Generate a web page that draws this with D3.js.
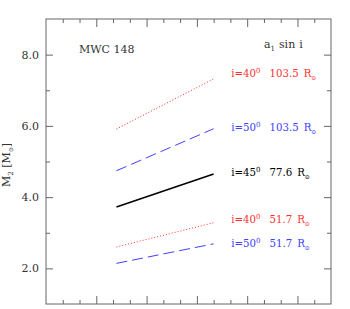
<!DOCTYPE html>
<html>
<head>
<meta charset="utf-8">
<script src="https://cdn.jsdelivr.net/npm/d3@7"></script>
<style>
  body { margin: 0; background: #fff; }
  svg { display: block; font-family: "DejaVu Serif", "Liberation Serif", serif; }
</style>
</head>
<body>
<svg id="chart" width="350" height="309"></svg>
<script>
// values
const xRange = [4.2, 10.0]
const inclinations = [40, 50, 45, 40, 50]
const a1sini = ['103.5', '103.5', '77.6', '51.7', '51.7']
const massStart = [5.91, 4.74, 3.72, 2.60, 2.14]
const massEnd = [7.32, 5.92, 4.65, 3.28, 2.69]
const labelMass = [7.38, 5.87, 4.58, 3.28, 2.59]
const yMajor = [2, 4, 6, 8]
const yMinor = [3, 5, 7]

const margin = {top: 19, right: 19, bottom: 5, left: 46}
const width = 350 - margin.left - margin.right
const height = 309 - margin.top - margin.bottom

const styleFor = {
  40: {color: '#ff3030', dash: '1,2', width: 1},
  50: {color: '#4040ff', dash: '11,5', width: 1},
  45: {color: '#000', dash: null, width: 1.6}
}

const svg = d3.select('#chart')
const g = svg.append('g')
  .attr('transform', 'translate(' + margin.left + ',' + margin.top + ')')

const xScale = d3.scaleLinear().domain([0, 17]).range([0, width])
const yScale = d3.scaleLinear().domain([1, 9]).range([height, 0])

const axisColor = '#666'
const textColor = '#333'
const fontSize = '11px'
const labelSize = '10.2px'

function styleAxis (sel) {
  sel.select('.domain').remove()
  sel.selectAll('line').attr('stroke', axisColor)
  sel.selectAll('text').attr('fill', textColor)
    .style('font-size', fontSize)
}

// x ticks, no labels
const xMinorVals = d3.range(1, 17).filter(d => d % 3 !== 0)
const xMajorVals = d3.range(3, 17, 3)
g.append('g').attr('transform', 'translate(0,' + height + ')')
  .call(d3.axisBottom(xScale).tickValues(xMinorVals).tickSize(-4).tickFormat(''))
  .call(styleAxis)
g.append('g').attr('transform', 'translate(0,' + height + ')')
  .call(d3.axisBottom(xScale).tickValues(xMajorVals).tickSize(-8).tickFormat(''))
  .call(styleAxis)
g.append('g')
  .call(d3.axisTop(xScale).tickValues(xMinorVals).tickSize(-4).tickFormat(''))
  .call(styleAxis)
g.append('g')
  .call(d3.axisTop(xScale).tickValues(xMajorVals).tickSize(-8).tickFormat(''))
  .call(styleAxis)

// y ticks
g.append('g')
  .call(d3.axisLeft(yScale).tickValues(yMajor).tickSize(-7).tickPadding(7).tickFormat(d3.format('.1f')))
  .call(styleAxis)
g.append('g')
  .call(d3.axisLeft(yScale).tickValues(yMinor).tickSize(-4).tickFormat(''))
  .call(styleAxis)
g.append('g').attr('transform', 'translate(' + width + ',0)')
  .call(d3.axisRight(yScale).tickValues(yMajor).tickSize(-7).tickFormat(''))
  .call(styleAxis)
g.append('g').attr('transform', 'translate(' + width + ',0)')
  .call(d3.axisRight(yScale).tickValues(yMinor).tickSize(-4).tickFormat(''))
  .call(styleAxis)
g.selectAll('g').attr('font-family', null).attr('font-size', null)

// frame
g.append('rect')
  .attr('width', width).attr('height', height)
  .attr('fill', 'none').attr('stroke', axisColor)

// lines
const line = d3.line().x(d => xScale(d[0])).y(d => yScale(d[1]))
inclinations.forEach((inc, i) => {
  const s = styleFor[inc]
  g.append('path')
    .datum([[xRange[0], massStart[i]], [xRange[1], massEnd[i]]])
    .attr('d', line)
    .attr('fill', 'none')
    .attr('stroke', s.color)
    .attr('stroke-width', s.width)
    .attr('stroke-dasharray', s.dash)
})

// labels
inclinations.forEach((inc, i) => {
  const s = styleFor[inc]
  const y = yScale(labelMass[i])
  const t = g.append('text')
    .attr('x', xScale(11.05)).attr('y', y)
    .attr('fill', s.color).style('font-size', labelSize)
  t.append('tspan').text('i=' + inc)
  t.append('tspan').attr('dy', -4).style('font-size', '7px').text('0')
  const t2 = g.append('text')
    .attr('x', xScale(13.33)).attr('y', y)
    .attr('fill', s.color).style('font-size', labelSize)
  t2.append('tspan').text(a1sini[i])
  t2.append('tspan').attr('dx', 5).text('R')
  t2.append('tspan').attr('dy', 3).style('font-size', '6px').text('\u2299')
})

// header of the label column
const hdr = g.append('text')
  .attr('x', xScale(13.0)).attr('y', 29)
  .attr('fill', textColor).style('font-size', fontSize)
hdr.append('tspan').text('a')
hdr.append('tspan').attr('dy', 3).style('font-size', '7px').text('1')
hdr.append('tspan').attr('dy', -3).attr('dx', 4).text('sin')
hdr.append('tspan').attr('dx', 4).text('i')

// star name
g.append('text')
  .attr('x', 33).attr('y', 34)
  .attr('fill', textColor).style('font-size', fontSize)
  .text('MWC 148')

// y axis title
const yt = svg.append('text')
  .attr('transform', 'translate(10,165) rotate(-90)')
  .attr('text-anchor', 'middle')
  .attr('fill', textColor).style('font-size', fontSize)
yt.append('tspan').text('M')
yt.append('tspan').attr('dy', 3).style('font-size', '7px').text('2')
yt.append('tspan').attr('dy', -3).text(' [M')
yt.append('tspan').attr('dy', 3).style('font-size', '6px').text('\u2299')
yt.append('tspan').attr('dy', -3).text(']')
</script>
</body>
</html>
